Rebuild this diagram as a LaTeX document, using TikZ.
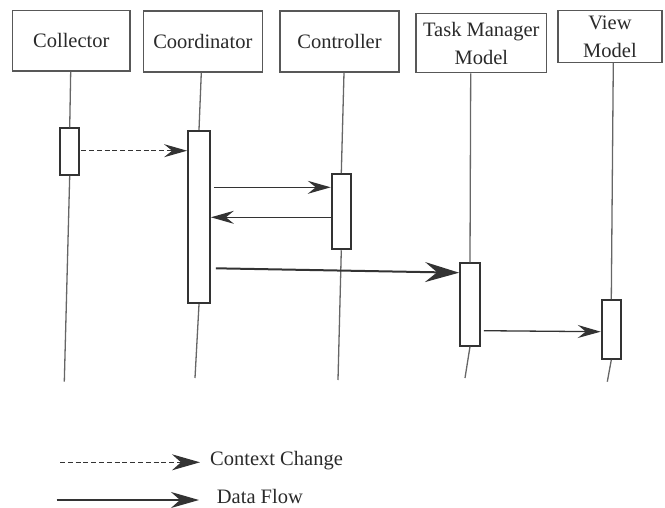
\documentclass[tikz,border=0pt]{standalone}
\usepackage{fontspec}
\setmainfont{Liberation Serif}
\usetikzlibrary{arrows.meta}
\definecolor{boxline}{HTML}{585858}
\definecolor{actline}{HTML}{333333}
\definecolor{lifeline}{HTML}{666666}
\definecolor{txt}{HTML}{2A2A2A}
\tikzset{
  hdr/.style={draw=boxline, line width=1.2pt, fill=white, inner sep=0pt, align=center,
    text=txt, font=\fontsize{20.5}{28}\selectfont},
  actbox/.style={draw=actline, line width=1.8pt, fill=white, inner sep=0pt},
  life/.style={draw=lifeline, line width=1.3pt},
  tipsmall/.style={-{Stealth[length=23pt, width=13pt, inset=8pt]}},
  ctx/.style={draw=actline, line width=1.2pt, dash pattern=on 5pt off 2.8pt, tipsmall},
  flow/.style={draw=actline, line width=1.3pt, tipsmall},
  flowbig/.style={draw=actline, line width=2pt, -{Stealth[length=34pt, width=20pt, inset=12pt]}},
  legtext/.style={anchor=west, inner sep=0pt, text=txt, font=\fontsize{20.5}{28}\selectfont}
}
\begin{document}
\begin{tikzpicture}[x=1pt, y=-1pt]
\useasboundingbox (0,0) rectangle (665,507);
% headers
\node[hdr, minimum width=117.3pt, minimum height=60.3pt] (h1) at (71.3,40.8) {Collector};
\node[hdr, minimum width=119pt, minimum height=61pt] (h2) at (202.8,41.5) {Coordinator};
\node[hdr, minimum width=119pt, minimum height=61pt] (h3) at (339.5,41.5) {Controller};
\node[hdr, minimum width=130.7pt, minimum height=59.4pt] (h4) at (481.3,43) {Task Manager\\Model};
\node[hdr, minimum width=104pt, minimum height=51.6pt] (h5) at (610,36.5) {View\\Model};
% activation boxes
\node[actbox, minimum width=19.3pt, minimum height=46.7pt] (a1) at (69.7,151.7) {};
\node[actbox, minimum width=22pt, minimum height=172.6pt] (a2) at (199,217) {};
\node[actbox, minimum width=19.3pt, minimum height=75.3pt] (a3) at (341.3,211.7) {};
\node[actbox, minimum width=20pt, minimum height=82.4pt] (a4) at (470,304.5) {};
\node[actbox, minimum width=19.3pt, minimum height=59pt] (a5) at (611.3,329.5) {};
% lifeline ends
\coordinate (e1) at (64.3,381.7);
\coordinate (e2) at (195,378);
\coordinate (e3) at (338,380);
\coordinate (e4) at (465,378);
\coordinate (e5) at (607.3,381.7);
% lifelines
\foreach \i/\lx in {1/70.7,2/201.3,3/344,4/470.7,5/613.3}{
  \draw[life] (\lx, 0 |- h\i.south) -- (a\i.north);
  \draw[life] (a\i.south) -- (e\i);
}
% messages
\draw[ctx] ([xshift=1pt]a1.east |- 0,150.7) -- (a2.west |- 0,150.7);
\draw[flow] ([xshift=3pt]a2.east |- 0,187.3) -- (a3.west |- 0,187.3);
\draw[flow] (a3.west |- 0,217.3) -- (a2.east |- 0,217.3);
\draw[flowbig] ([xshift=5pt]a2.east |- 0,268.3) -- (a4.west |- 0,272.7);
\draw[flow] ([xshift=3pt]a4.east |- 0,330.7) -- (a5.west |- 0,331.7);
% legend
\node[legtext] (l1) at (210,460.7) {Context Change};
\node[legtext] (l2) at (216.7,496.7) {Data Flow};
\coordinate (s1) at (60,462.3);
\coordinate (s2) at (56.7,500);
\draw[ctx, -{Stealth[length=28pt, width=16pt, inset=9pt]}] (s1) -- ([xshift=-10pt]l1.west |- s1);
\draw[flow, line width=1.5pt, -{Stealth[length=28pt, width=16pt, inset=9pt]}] (s2) -- ([xshift=-17.7pt]l2.west |- s2);
\end{tikzpicture}
\end{document}
